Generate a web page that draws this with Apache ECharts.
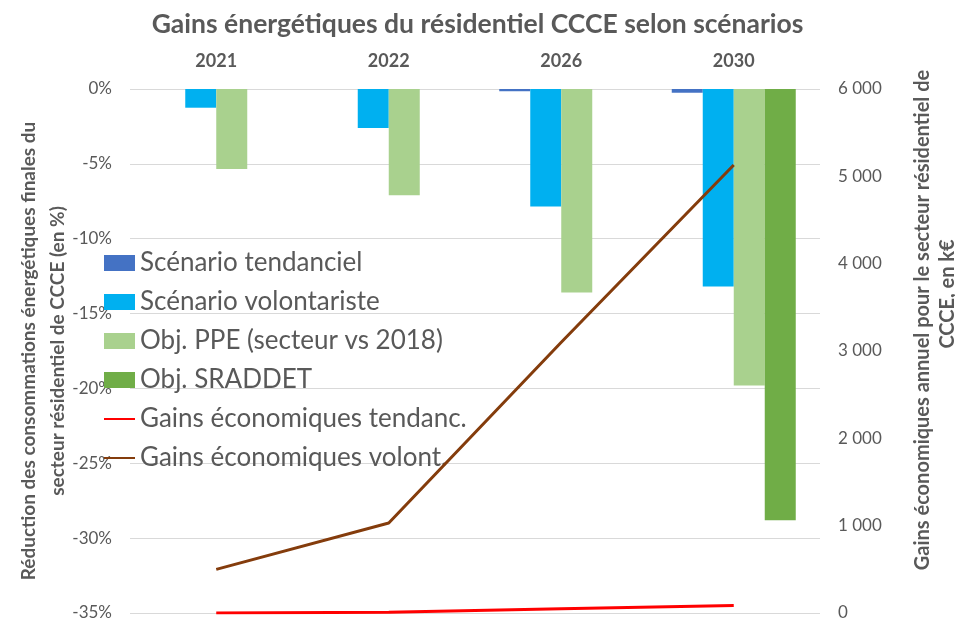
<!DOCTYPE html>
<html>
<head>
<meta charset="utf-8">
<script src="https://cdn.jsdelivr.net/npm/echarts@6/dist/echarts.min.js"></script>
<style>
  html, body { margin: 0; padding: 0; background: #fff; }
  #chart { width: 955px; height: 618px; }
</style>
</head>
<body>
<div id="chart"></div>
<script>
// données
const years = ['2021', '2022', '2026', '2030'];
const tendanciel = [0, 0, -0.15, -0.25];
const volontariste = [-1.25, -2.6, -7.85, -13.2];
const objPPE = [-5.35, -7.1, -13.6, -19.8];
const objSRADDET = [null, null, null, -28.8];
const gainsTendanc = [0, 10, 50, 85];
const gainsVolont = [500, 1030, 3100, 5130];
const pctTicks = { min: -35, max: 0, interval: 5 };
const eurTicks = { min: 0, max: 6000, interval: 1000 };

const grey = '#595959';
const font = 'Lato, "Open Sans", sans-serif';

let chart = echarts.init(document.getElementById('chart'));

function barSerie(name, data, color) {
    return {
        name: name,
        type: 'bar',
        yAxisIndex: 0,
        barWidth: 31,
        barGap: '0%',
        itemStyle: { color: color },
        data: data
    };
}

function lineSerie(name, data, color) {
    return {
        name: name,
        type: 'line',
        yAxisIndex: 1,
        symbol: 'none',
        z: 5,
        lineStyle: { color: color, width: 3 },
        itemStyle: { color: color },
        data: data
    };
}

let option = {
    textStyle: { fontFamily: font },
    title: {
        text: 'Gains énergétiques du résidentiel CCCE selon scénarios',
        left: 'center',
        top: 6,
        textStyle: { fontSize: 26.5, fontWeight: 'bold', color: grey, fontFamily: font }
    },
    grid: { left: 130, right: 135, top: 89, bottom: 5, outerBoundsMode: 'none' },
    legend: {
        orient: 'vertical',
        left: 103,
        top: 248,
        padding: 0,
        itemWidth: 31,
        itemHeight: 16,
        itemGap: 9,
        textStyle: { fontSize: 26, color: grey, lineHeight: 30, fontFamily: font },
        data: [
            { name: 'Scénario tendanciel', icon: 'rect' },
            { name: 'Scénario volontariste', icon: 'rect' },
            { name: 'Obj. PPE (secteur vs 2018)', icon: 'rect' },
            { name: 'Obj. SRADDET', icon: 'rect' },
            { name: 'Gains économiques tendanc.', itemStyle: { opacity: 0 } },
            { name: 'Gains économiques volont.', itemStyle: { opacity: 0 } }
        ]
    },
    xAxis: {
        type: 'category',
        position: 'top',
        data: years,
        axisLine: { show: false },
        axisTick: { show: false },
        axisLabel: { margin: 19, fontSize: 18, fontWeight: 'bold', color: grey, fontFamily: font }
    },
    yAxis: [
        {
            type: 'value',
            min: pctTicks.min,
            max: pctTicks.max,
            interval: pctTicks.interval,
            name: 'Réduction des consommations énergétiques finales du\nsecteur résidentiel de CCCE (en %)',
            nameLocation: 'middle',
            nameGap: 58,
            nameMoveOverlap: false,
            nameTextStyle: { fontSize: 19, fontWeight: 'bold', color: grey, lineHeight: 29, fontFamily: font },
            axisLine: { show: false },
            axisTick: { show: false },
            axisLabel: { margin: 18, fontSize: 17, color: grey, formatter: '{value}%' },
            splitLine: { lineStyle: { color: '#d9d9d9', width: 1 } }
        },
        {
            type: 'value',
            min: eurTicks.min,
            max: eurTicks.max,
            interval: eurTicks.interval,
            axisLine: { show: false },
            axisTick: { show: false },
            splitLine: { show: false },
            axisLabel: {
                margin: 18,
                fontSize: 17,
                color: grey,
                formatter: v => v >= 1000 ? Math.floor(v / 1000) + ' ' + String(v % 1000).padStart(3, '0') : String(v)
            }
        }
    ],
    graphic: [
        {
            type: 'text',
            x: 923,
            y: 320,
            rotation: Math.PI / 2,
            style: {
                text: 'Gains économiques annuel pour le secteur résidentiel de',
                fill: grey,
                font: 'bold 20px ' + font,
                textAlign: 'center',
                textVerticalAlign: 'middle'
            }
        },
        {
            type: 'text',
            x: 948,
            y: 294,
            rotation: Math.PI / 2,
            style: {
                text: 'CCCE, en k€',
                fill: grey,
                font: 'bold 20px ' + font,
                textAlign: 'center',
                textVerticalAlign: 'middle'
            }
        }
    ],
    series: [
        barSerie('Scénario tendanciel', tendanciel, '#4472C4'),
        barSerie('Scénario volontariste', volontariste, '#00B0F0'),
        barSerie('Obj. PPE (secteur vs 2018)', objPPE, '#A9D18E'),
        barSerie('Obj. SRADDET', objSRADDET, '#70AD47'),
        lineSerie('Gains économiques tendanc.', gainsTendanc, '#FF0000'),
        lineSerie('Gains économiques volont.', gainsVolont, '#843C0C')
    ]
};
chart.setOption(option);
window.addEventListener('resize', () => {
    chart.resize()
})
</script>
</body>
</html>
